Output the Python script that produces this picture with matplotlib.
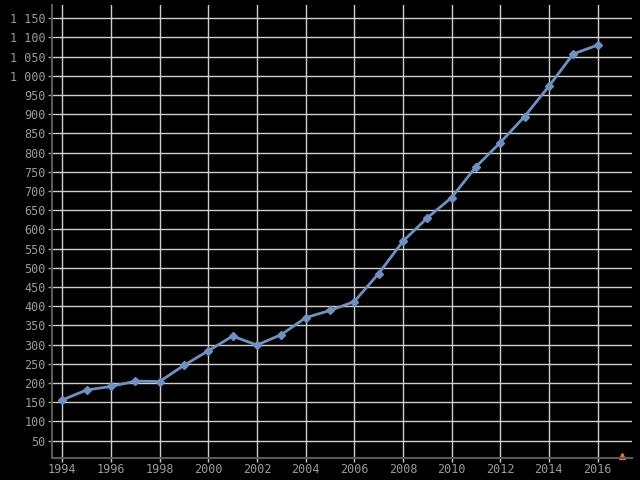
import matplotlib
matplotlib.use("Agg")
import matplotlib.pyplot as plt
import numpy as np

years = [1994, 1995, 1996, 1997, 1998, 1999, 2000, 2001, 2002, 2003, 2004,
         2005, 2006, 2007, 2008, 2009, 2010, 2011, 2012, 2013, 2014, 2015, 2016]
values = [156, 182, 191, 205, 204, 246, 284, 322, 299, 326, 370,
          389, 412, 485, 569, 630, 683, 763, 826, 894, 973, 1057, 1080]
extra_years = [2017]
extra_values = [10]

x_ticks = list(range(1994, 2017, 2))
y_ticks = list(range(50, 1151, 50))

fig = plt.figure(figsize=(6.4, 4.8), dpi=100, facecolor="black")
ax = fig.add_axes([0.081, 0.046, 0.907, 0.944], facecolor="black")

ax.set_xlim(1993.57, 2017.43)
ax.set_ylim(5, 1185)
ax.set_xticks(x_ticks)
ax.set_yticks(y_ticks)
ax.set_yticklabels([f"{v:,}".replace(",", " ") for v in y_ticks])

ax.grid(True, color="#cfcfcf", linewidth=1.0)
ax.set_axisbelow(True)

for s in ["top", "right"]:
    ax.spines[s].set_visible(False)
for s in ["left", "bottom"]:
    ax.spines[s].set_color("#5a5a5a")
    ax.spines[s].set_linewidth(1.5)

ax.tick_params(colors="#9a9a9a", labelsize=8.5, length=3, width=1, pad=1.5)
ax.tick_params(axis="x", colors="#cfcfcf", labelcolor="#9a9a9a", pad=1)
for lab in ax.get_xticklabels() + ax.get_yticklabels():
    lab.set_family("DejaVu Sans Mono")

ax.plot(years, values, color="#7090c0", linewidth=2.0, marker="D",
        markersize=4, clip_on=False)
ax.plot(extra_years, extra_values, color="#e07a4a", marker="^",
        markersize=4, linestyle="none", clip_on=False)

fig.savefig("out.png", dpi=100, facecolor="black")
